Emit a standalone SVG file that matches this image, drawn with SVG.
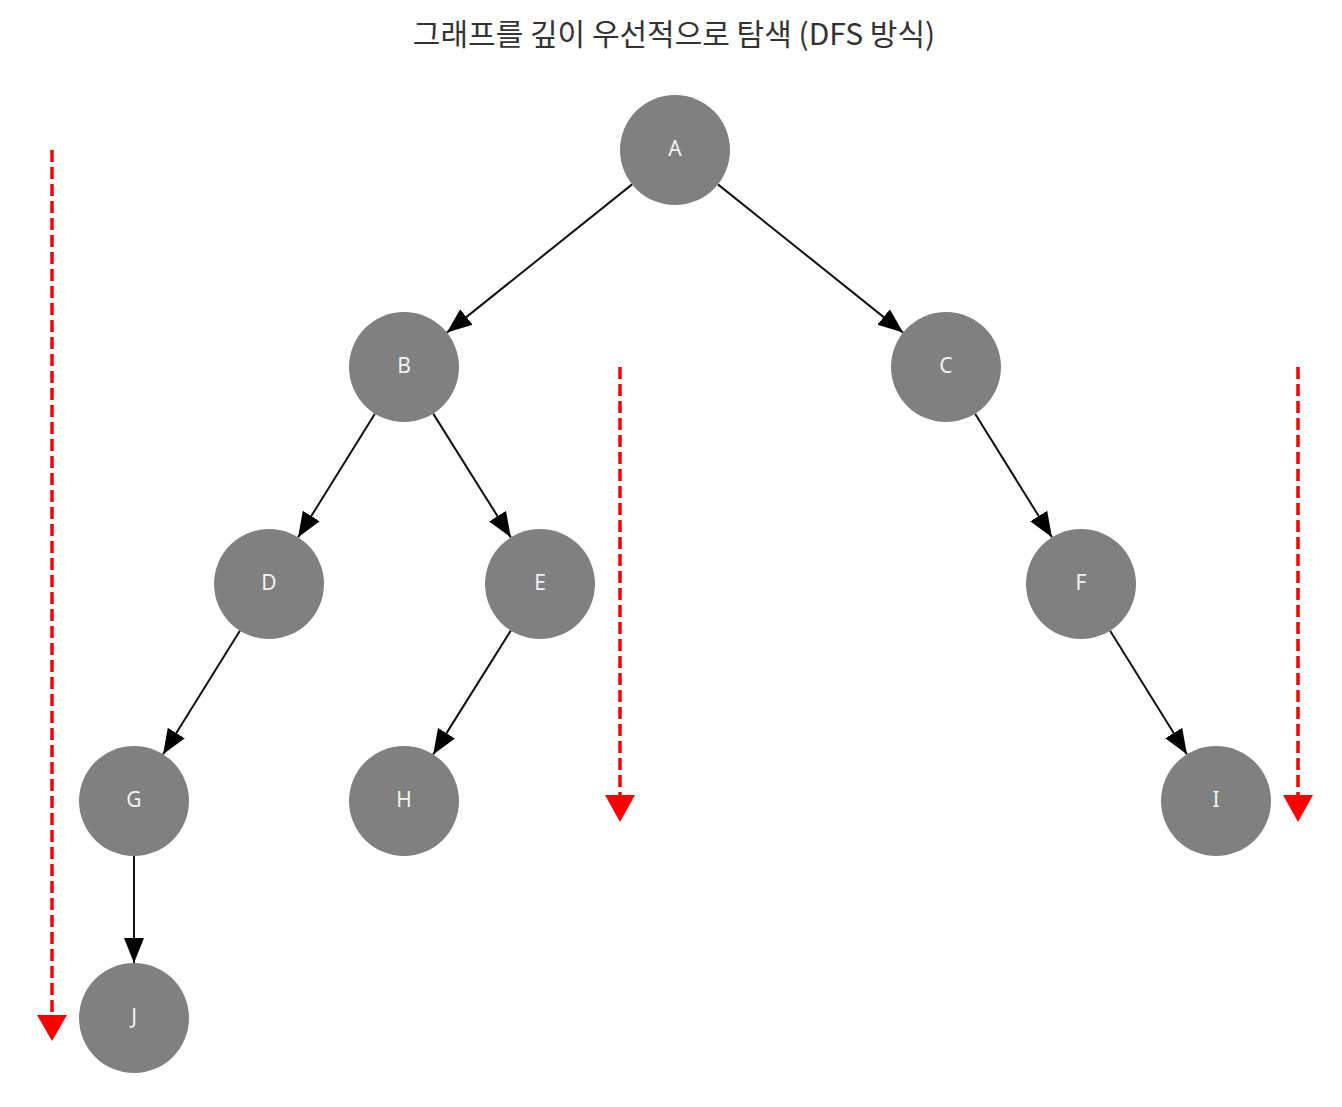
<svg xmlns="http://www.w3.org/2000/svg" width="1342" height="1107" viewBox="0 0 1342 1107">
<style>
.node circle{fill:#808080}
.node text{fill:#f2f2f2;font-family:"Noto Sans","DejaVu Sans",sans-serif;font-size:21px;text-anchor:middle;dominant-baseline:central}
.edge{stroke:#111;stroke-width:2;fill:none}
.trav{stroke:#ff0000;stroke-width:3.5;stroke-dasharray:12,5;fill:none}
.title{font-family:"Noto Sans CJK KR","Noto Sans",sans-serif;font-size:30px;fill:#333;text-anchor:middle}
</style>
<defs>
<marker id="ah" markerUnits="userSpaceOnUse" markerWidth="26" markerHeight="22" viewBox="0 0 26 22" refX="25" refY="11" orient="auto">
<path d="M0,1 L25,11 L0,21 Z" fill="#000"/>
</marker>
</defs>
<rect width="1342" height="1107" fill="#fff"/>
<text class="title" x="674" y="45">그래프를 깊이 우선적으로 탐색 (DFS 방식)</text>
<g id="connectors">
<line class="edge" x1="632.1" y1="184.4" x2="446.9" y2="332.6" marker-end="url(#ah)"/>
<line class="edge" x1="717.9" y1="184.4" x2="903.1" y2="332.6" marker-end="url(#ah)"/>
<line class="edge" x1="374.9" y1="413.7" x2="298.1" y2="537.3" marker-end="url(#ah)"/>
<line class="edge" x1="433.2" y1="413.6" x2="510.8" y2="537.4" marker-end="url(#ah)"/>
<line class="edge" x1="975.1" y1="413.7" x2="1051.9" y2="537.3" marker-end="url(#ah)"/>
<line class="edge" x1="239.9" y1="630.7" x2="163.1" y2="754.3" marker-end="url(#ah)"/>
<line class="edge" x1="510.8" y1="630.6" x2="433.2" y2="754.4" marker-end="url(#ah)"/>
<line class="edge" x1="1110.1" y1="630.7" x2="1186.9" y2="754.3" marker-end="url(#ah)"/>
<line class="edge" x1="134" y1="856" x2="134" y2="963" marker-end="url(#ah)"/>
</g>
<g id="traversal">
<line class="trav" x1="52" y1="150" x2="52" y2="1018"/>
<path d="M37,1015 L67,1015 L52,1041 Z" fill="#ff0000"/>
<line class="trav" x1="620" y1="367" x2="620" y2="798"/>
<path d="M605,795 L635,795 L620,822 Z" fill="#ff0000"/>
<line class="trav" x1="1298" y1="367" x2="1298" y2="798"/>
<path d="M1283,795 L1313,795 L1298,822 Z" fill="#ff0000"/>
</g>
<g id="node-A" class="node"><circle cx="675" cy="150" r="55"/><text x="675" y="148">A</text></g>
<g id="node-B" class="node"><circle cx="404" cy="367" r="55"/><text x="404" y="365">B</text></g>
<g id="node-C" class="node"><circle cx="946" cy="367" r="55"/><text x="946" y="365">C</text></g>
<g id="node-D" class="node"><circle cx="269" cy="584" r="55"/><text x="269" y="582">D</text></g>
<g id="node-E" class="node"><circle cx="540" cy="584" r="55"/><text x="540" y="582">E</text></g>
<g id="node-F" class="node"><circle cx="1081" cy="584" r="55"/><text x="1081" y="582">F</text></g>
<g id="node-G" class="node"><circle cx="134" cy="801" r="55"/><text x="134" y="799">G</text></g>
<g id="node-H" class="node"><circle cx="404" cy="801" r="55"/><text x="404" y="799">H</text></g>
<g id="node-I" class="node"><circle cx="1216" cy="801" r="55"/><text x="1216" y="799">I</text></g>
<g id="node-J" class="node"><circle cx="134" cy="1018" r="55"/><text x="134" y="1016">J</text></g>
</svg>
